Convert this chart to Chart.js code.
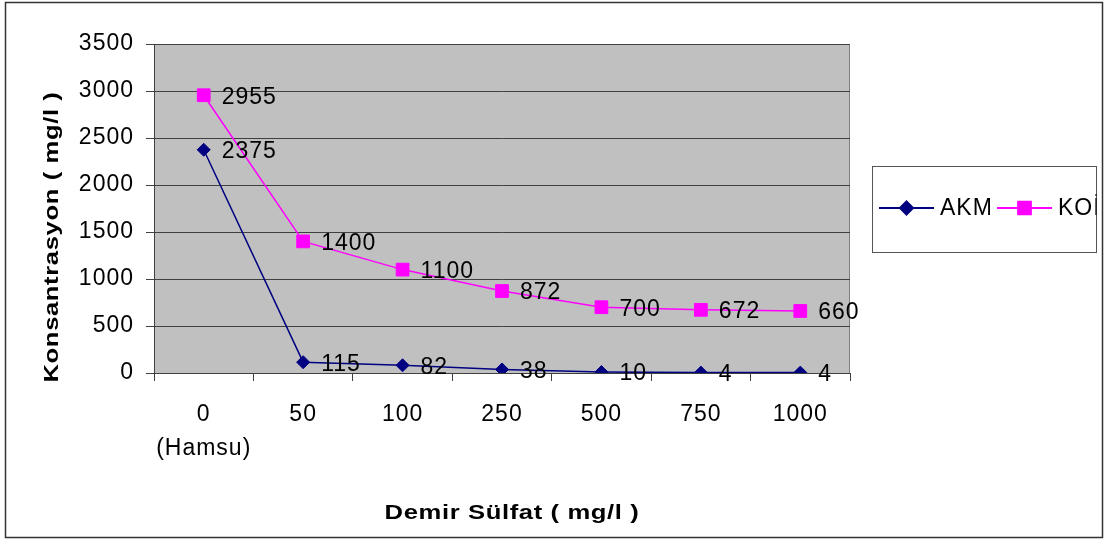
<!DOCTYPE html>
<html lang="tr">
<head>
<meta charset="UTF-8">
<title>Demir Sülfat - Konsantrasyon</title>
<style>
    body { margin: 0; padding: 0; background: #fff; }
    .wrap { width: 1108px; height: 541px; position: relative; }
</style>
</head>
<body>
<div class="wrap"><canvas id="chart"></canvas></div>
<script src="https://cdn.jsdelivr.net/npm/chart.js"></script>
<script>
// doz (mg/l) ve ölçülen konsantrasyonlar
const dozlar = [['0', '(Hamsu)'], '50', '100', '250', '500', '750', '1000'];
const akm = [2375, 115, 82, 38, 10, 4, 4];
const koi = [2955, 1400, 1100, 872, 700, 672, 660];
const yTicks = [0, 500, 1000, 1500, 2000, 2500, 3000, 3500];

const FONT = 'Arial, "Liberation Sans", sans-serif';
const SPACING = '1px';

// geniş yazılmış kalın eksen başlığı
function wideTitle(ctx, text, x, y, angle) {
    ctx.save();
    ctx.translate(x, y);
    ctx.rotate(angle);
    ctx.scale(1.22, 1);
    ctx.fillText(text, 0, 0);
    ctx.restore();
}

// gri çizim alanı, çerçeveler, başlıklar, değer etiketleri ve gösterge
const excelLook = {
    id: 'excelLook',
    beforeLayout(chart) {
        chart.ctx.letterSpacing = SPACING;
    },
    beforeDraw(chart) {
        const { ctx, chartArea: a } = chart;
        ctx.letterSpacing = SPACING;
        ctx.save();
        ctx.fillStyle = '#c0c0c0';
        ctx.fillRect(a.left, a.top, a.right - a.left, a.bottom - a.top);
        ctx.strokeStyle = '#808080';
        ctx.lineWidth = 1;
        ctx.strokeRect(a.left + 0.5, a.top + 0.5, a.right - a.left - 1, a.bottom - a.top);
        ctx.restore();
    },
    afterDraw(chart) {
        const { ctx } = chart;
        ctx.save();

        // dış çerçeve
        ctx.strokeStyle = '#333';
        ctx.lineWidth = 1.5;
        ctx.strokeRect(5.5, 2.5, 1097, 535);

        // eksen başlıkları
        ctx.fillStyle = '#000';
        ctx.font = 'bold 21px ' + FONT;
        ctx.letterSpacing = '0.5px';
        ctx.textAlign = 'center';
        ctx.textBaseline = 'middle';
        wideTitle(ctx, 'Demir Sülfat ( mg/l )', 512, 513, 0);
        wideTitle(ctx, 'Konsantrasyon ( mg/l )', 52, 237, -Math.PI / 2);

        // nokta değerleri
        ctx.letterSpacing = SPACING;
        ctx.font = '23px ' + FONT;
        ctx.textAlign = 'left';
        chart.data.datasets.forEach((ds, i) => {
            chart.getDatasetMeta(i).data.forEach((pt, j) => {
                ctx.fillText(String(ds.data[j]), pt.x + 18, pt.y + 2);
            });
        });

        // gösterge
        const box = { x: 872.5, y: 166.5, w: 224, h: 86 };
        ctx.strokeStyle = '#555';
        ctx.lineWidth = 1;
        ctx.strokeRect(box.x, box.y, box.w, box.h);
        ctx.beginPath();
        ctx.rect(box.x, box.y, box.w, box.h);
        ctx.clip();
        const cy = 208;
        let x = 879;
        chart.data.datasets.forEach(ds => {
            ctx.strokeStyle = ds.borderColor;
            ctx.lineWidth = 2;
            ctx.beginPath();
            ctx.moveTo(x, cy);
            ctx.lineTo(x + 55, cy);
            ctx.stroke();
            Chart.helpers.drawPoint(ctx, {
                pointStyle: ds.pointStyle,
                radius: ds.pointRadius,
                borderWidth: 1
            }, x + 27.5, cy);
            ctx.fillStyle = ds.pointBackgroundColor;
            ctx.fill();
            ctx.fillStyle = '#000';
            ctx.fillText(ds.label, x + 61, cy + 1);
            x += 118;
        });
        ctx.restore();
    }
};

new Chart(document.getElementById('chart'), {
    type: 'line',
    data: {
        labels: dozlar,
        datasets: [{
            label: 'AKM',
            data: akm,
            borderColor: '#000080',
            backgroundColor: '#000080',
            pointBackgroundColor: '#000080',
            pointBorderColor: '#000080',
            pointStyle: 'rectRot',
            pointRadius: 6.5,
            pointBorderWidth: 1,
            borderWidth: 1.5,
            tension: 0
        }, {
            label: 'KOİ',
            data: koi,
            borderColor: '#ff00ff',
            backgroundColor: '#ff00ff',
            pointBackgroundColor: '#ff00ff',
            pointBorderColor: '#ff00ff',
            pointStyle: 'rect',
            pointRadius: 9,
            pointBorderWidth: 1,
            borderWidth: 1.5,
            tension: 0
        }]
    },
    options: {
        responsive: true,
        maintainAspectRatio: false,
        animation: false,
        layout: { padding: { left: 0, top: 44, right: 258, bottom: 0 } },
        plugins: {
            legend: { display: false },
            tooltip: { enabled: false }
        },
        scales: {
            x: {
                offset: true,
                afterFit(scale) { scale.height = 168; },
                grid: {
                    offset: true,
                    drawOnChartArea: false,
                    drawTicks: true,
                    tickLength: 8,
                    color: '#404040'
                },
                border: { color: '#404040', width: 1 },
                ticks: {
                    color: '#000',
                    padding: 17,
                    maxRotation: 0,
                    font: { family: FONT, size: 23, lineHeight: 1.48 }
                }
            },
            y: {
                min: 0,
                max: 3500,
                afterFit(scale) { scale.width = 154; },
                afterBuildTicks(scale) { scale.ticks = yTicks.map(v => ({ value: v })); },
                grid: {
                    color: '#404040',
                    tickLength: 8,
                    drawTicks: true
                },
                border: { color: '#404040', width: 1 },
                ticks: {
                    color: '#000',
                    padding: 12,
                    font: { family: FONT, size: 23 },
                    callback: v => String(v)
                }
            }
        }
    },
    plugins: [excelLook]
});
</script>
</body>
</html>
